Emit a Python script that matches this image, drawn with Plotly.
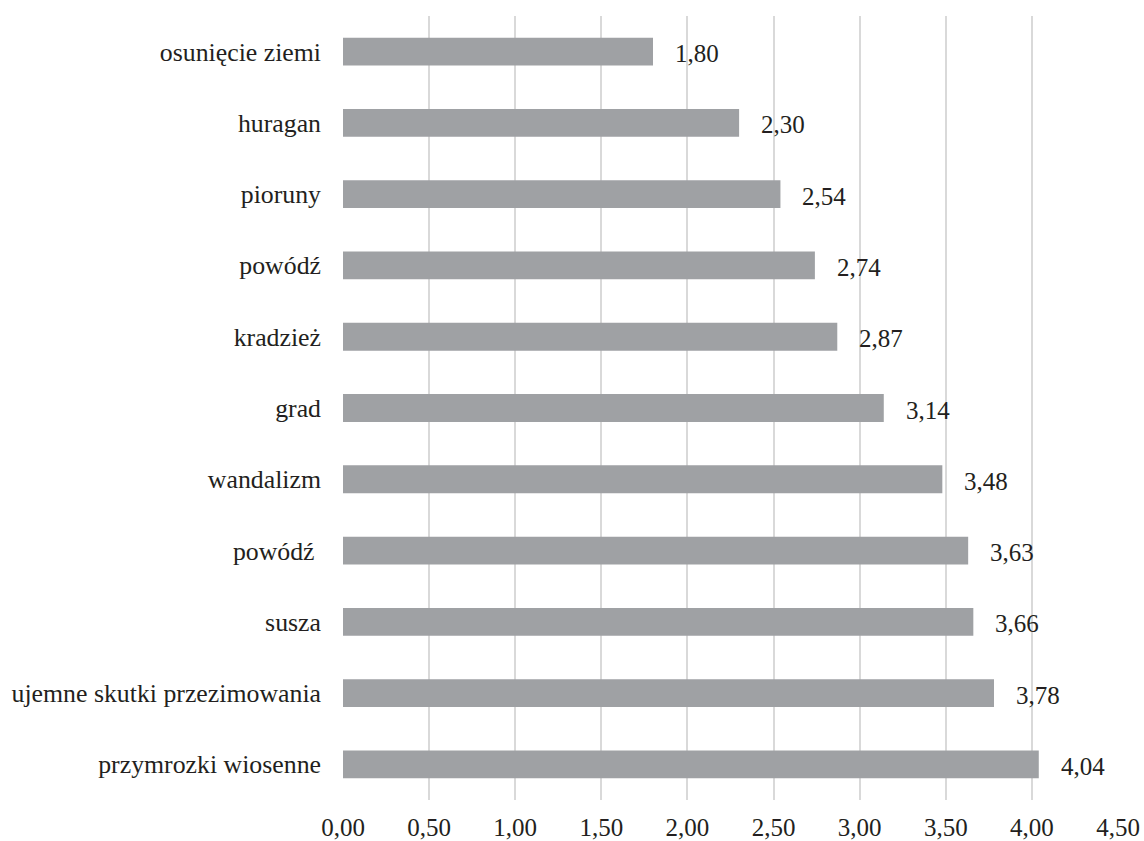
import plotly.graph_objects as go

# Hazard categories (top to bottom) and their mean scores
categories = [
    "osunięcie ziemi",
    "huragan",
    "pioruny",
    "powódź",
    "kradzież",
    "grad",
    "wandalizm",
    "powódź ",
    "susza",
    "ujemne skutki przezimowania",
    "przymrozki wiosenne",
]
values = [1.80, 2.30, 2.54, 2.74, 2.87, 3.14, 3.48, 3.63, 3.66, 3.78, 4.04]
x_ticks = [0.0, 0.5, 1.0, 1.5, 2.0, 2.5, 3.0, 3.5, 4.0, 4.5]

FONT = "Liberation Serif"
TEXT_COLOR = "#231f20"
FONT_SIZE = 25
CAT_FONT_SIZE = 25.8

fig = go.Figure(
    go.Bar(
        x=values,
        y=categories,
        orientation="h",
        marker=dict(color="#9fa1a4", line=dict(width=0)),
        hoverinfo="skip",
    )
)

# Value labels to the right of each bar
for cat, val in zip(categories, values):
    fig.add_annotation(
        x=val,
        y=cat,
        text=f"{val:.2f}".replace(".", ","),
        showarrow=False,
        xanchor="left",
        yanchor="middle",
        xshift=20,
        yshift=-2,
        font=dict(family=FONT, size=FONT_SIZE, color=TEXT_COLOR),
    )

fig.update_layout(
    width=1144,
    height=841,
    margin=dict(l=343, r=26, t=16, b=41, autoexpand=False),
    paper_bgcolor="white",
    plot_bgcolor="white",
    bargap=0.61,
    showlegend=False,
    separators=", ",
    font=dict(family=FONT, size=FONT_SIZE, color=TEXT_COLOR),
    xaxis=dict(
        range=[0, 4.5],
        tickvals=x_ticks,
        tickformat=".2f",
        showgrid=True,
        gridcolor="#d9d9d9",
        gridwidth=2,
        zeroline=False,
        showline=False,
        ticks="",
        automargin=False,
        ticklabelstandoff=10,
        tickfont=dict(family=FONT, size=FONT_SIZE, color=TEXT_COLOR),
    ),
    yaxis=dict(
        categoryorder="array",
        categoryarray=categories[::-1],
        showgrid=False,
        zeroline=False,
        showline=False,
        ticks="",
        automargin=False,
        ticklabelstandoff=21,
        tickfont=dict(family=FONT, size=CAT_FONT_SIZE, color=TEXT_COLOR),
    ),
)

fig.write_html("out.html")
